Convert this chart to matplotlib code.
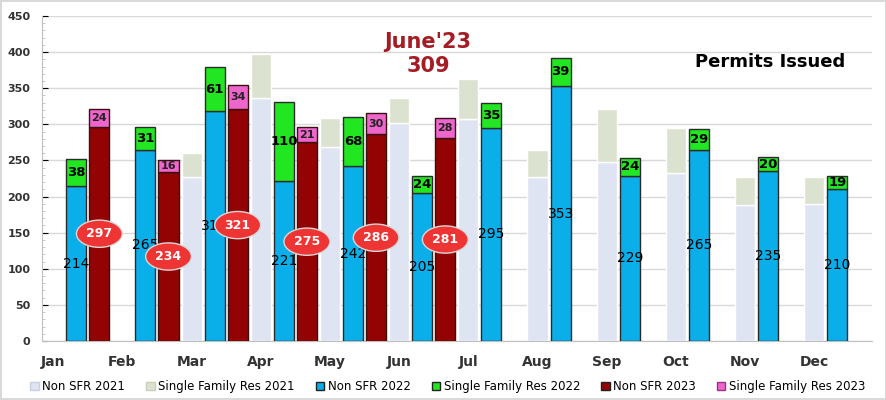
import numpy as np
import matplotlib.pyplot as plt
from matplotlib.patches import Patch

months = ['Jan', 'Feb', 'Mar', 'Apr', 'May', 'Jun', 'Jul', 'Aug', 'Sep', 'Oct', 'Nov', 'Dec']
nan = np.nan
non_sfr_2021 = [nan, nan, 227, 336, 269, 302, 307, 227, 248, 233, 188, 190]
sfr_2021 = [nan, nan, 33, 61, 40, 34, 56, 38, 73, 62, 39, 37]
non_sfr_2022 = [214, 265, 318, 221, 242, 205, 295, 353, 229, 265, 235, 210]
sfr_2022 = [38, 31, 61, 110, 68, 24, 35, 39, 24, 29, 20, 19]
non_sfr_2023 = [297, 234, 321, 275, 286, 281]
sfr_2023 = [24, 16, 34, 21, 30, 28]

c21a, c21b = '#dfe4f2', '#dbe2cf'
c22a, c22b = '#0aaee8', '#22e622'
c23a, c23b = '#930303', '#ee66cc'

fig = plt.figure(figsize=(8.87, 4.0), dpi=100)
fig.patch.set_edgecolor('#d9d9d9')
fig.patch.set_linewidth(1.5)
ax = fig.add_axes([0.047, 0.1475, 0.936, 0.8125])

x = np.arange(12)
w = 0.29
off = 1 / 3

# 2021 (faded)
ax.bar(x - off, non_sfr_2021, w, color=c21a, edgecolor='white', linewidth=1, zorder=2)
ax.bar(x - off, sfr_2021, w, bottom=non_sfr_2021, color=c21b, edgecolor='white', linewidth=1, zorder=2)

# 2022
ax.bar(x, non_sfr_2022, w, color=c22a, edgecolor='#2b2b2b', linewidth=1, zorder=3)
ax.bar(x, sfr_2022, w, bottom=non_sfr_2022, color=c22b, edgecolor='#2b2b2b', linewidth=1, zorder=3)

# 2023 (Jan-Jun only)
x23 = x[:len(non_sfr_2023)] + off
ax.bar(x23, non_sfr_2023, w, color=c23a, edgecolor='#3a1010', linewidth=1, zorder=3)
ax.bar(x23, sfr_2023, w, bottom=non_sfr_2023, color=c23b, edgecolor='#3a1010', linewidth=1, zorder=3)

for xi, a, b in zip(x, non_sfr_2022, sfr_2022):
    ax.text(xi, a / 2, str(a), ha='center', va='center', fontsize=10, color='black', zorder=4)
    ax.text(xi, a + b / 2, str(b), ha='center', va='center', fontsize=9.5, fontweight='bold',
            color='black', zorder=4)

for xi, a, b in zip(x23, non_sfr_2023, sfr_2023):
    ax.text(xi, a / 2, str(a), ha='center', va='center', fontsize=9, fontweight='bold',
            color='white', zorder=6,
            bbox=dict(boxstyle='ellipse,pad=0.25', fc='#ef3434', ec='#d8d8d8', lw=1))
    ax.text(xi, a + b / 2, str(b), ha='center', va='center', fontsize=8, fontweight='bold',
            color='#222222', zorder=4)

ax.set_xlim(-0.5, 11.5)
ax.set_ylim(0, 450)
ax.set_yticks(np.arange(0, 451, 50))
ax.set_yticks(np.arange(0, 451, 10), minor=True)
ax.set_xticks(x - off)
ax.set_xticklabels(months)
ax.tick_params(axis='x', length=0, labelsize=10, labelcolor='#333333', pad=10)
ax.tick_params(axis='y', which='major', length=4, direction='in', labelsize=8, labelcolor='#333333', pad=8)
ax.tick_params(axis='y', which='minor', length=2, direction='in', color='#bfbfbf')
for lab in ax.get_yticklabels() + ax.get_xticklabels():
    lab.set_fontweight('bold')
ax.grid(axis='y', color='#d9d9d9', linewidth=1, zorder=0)
ax.set_axisbelow(True)
for s in ['top', 'right']:
    ax.spines[s].set_visible(False)
ax.spines['left'].set_color('#bfbfbf')
ax.spines['bottom'].set_color('#bfbfbf')

fig.text(428 / 887, 1 - 42 / 400, "June'23", ha='center', va='center',
         fontsize=15, fontweight='bold', color='#a51c24')
fig.text(428 / 887, 1 - 66 / 400, "309", ha='center', va='center',
         fontsize=15, fontweight='bold', color='#a51c24')
fig.text(770 / 887, 1 - 62 / 400, "Permits Issued", ha='center', va='center',
         fontsize=13, fontweight='bold', color='black')

handles = [Patch(fc=c21a, ec='#c8cfe0'), Patch(fc=c21b, ec='#c8d0bc'),
           Patch(fc=c22a, ec='#222222'), Patch(fc=c22b, ec='#222222'),
           Patch(fc=c23a, ec='#222222'), Patch(fc=c23b, ec='#993388')]
labels = ['Non SFR 2021', 'Single Family Res 2021', 'Non SFR 2022',
          'Single Family Res 2022', 'Non SFR 2023', 'Single Family Res 2023']
fig.legend(handles, labels, loc='lower center', bbox_to_anchor=(0.505, -0.01), ncol=6,
           frameon=False, fontsize=8.5, handlelength=0.7, handleheight=0.7,
           handletextpad=0.3, columnspacing=1.8)

fig.savefig('out.png', dpi=100)
